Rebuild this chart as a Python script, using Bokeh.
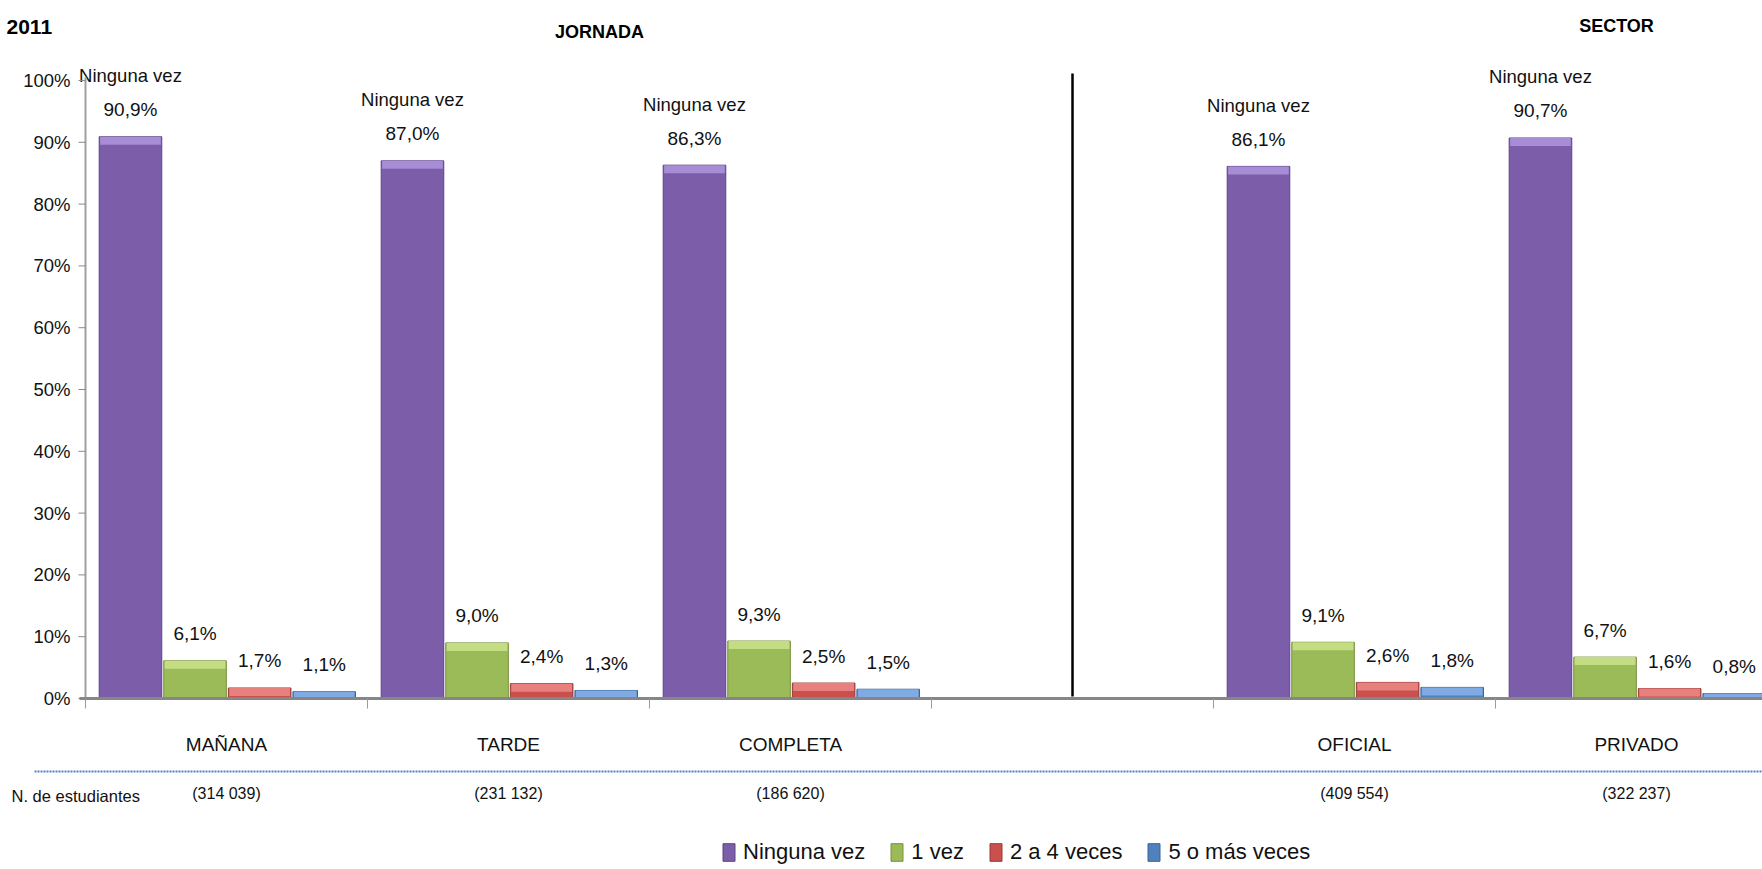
from bokeh.plotting import figure
from bokeh.models import Range1d, ColumnDataSource, Legend, LegendItem
from bokeh.core.properties import value
from bokeh.embed import file_html
from bokeh.resources import INLINE

# ---------------- data ----------------
year = "2011"
categories = ["MAÑANA", "TARDE", "COMPLETA", "", "OFICIAL", "PRIVADO"]
group_titles = ["JORNADA", "SECTOR"]
series_names = ["Ninguna vez", "1 vez", "2 a 4 veces", "5 o más veces"]
ninguna_vez = [90.9, 87.0, 86.3, None, 86.1, 90.7]
una_vez = [6.1, 9.0, 9.3, None, 9.1, 6.7]
dos_a_cuatro = [1.7, 2.4, 2.5, None, 2.6, 1.6]
cinco_o_mas = [1.1, 1.3, 1.5, None, 1.8, 0.8]
n_estudiantes = ["(314 039)", "(231 132)", "(186 620)", "", "(409 554)", "(322 237)"]
n_label = "N. de estudiantes"
y_ticks = [0, 10, 20, 30, 40, 50, 60, 70, 80, 90, 100]

series_values = [ninguna_vez, una_vez, dos_a_cuatro, cinco_o_mas]

# ---------------- style / layout ----------------
FONT = "Liberation Sans"
TXT = "#111111"
body_colors = ["#7C5DA9", "#9BBB59", "#C9504D", "#4F81BD"]
cap_colors = ["#A78DD6", "#C4DC82", "#E8807D", "#80AAE4"]
edge_colors = ["#5D4486", "#78923F", "#963A38", "#3A6596"]

W, H = 1762, 869
AXIS_X = 85          # px of the value axis
CAT_PX = 282         # px per category
Y_PX = 6.18          # px per percent point
ZERO_Y = 698         # px from top for 0 %


def dx(px):  # px from left -> data x
    return (px - AXIS_X) / CAT_PX


def dy(py):  # px from top -> data y
    return (ZERO_Y - py) / Y_PX


p = figure(width=W, height=H, x_range=Range1d(dx(0), dx(W)), y_range=Range1d(dy(H), dy(0)),
           output_backend="svg", toolbar_location=None, x_axis_location=None,
           y_axis_location=None, min_border_left=0, min_border_right=0,
           min_border_top=0, min_border_bottom=0)
p.outline_line_color = None
p.grid.visible = False
p.background_fill_color = "white"
p.border_fill_color = "white"

offsets = [0.1595, 0.3885, 0.6175, 0.8465]
BAR_W = 0.222
CAP_H = 8 / Y_PX

renderers = []
for s, vals in enumerate(series_values):
    xs, tops, caps, labels = [], [], [], []
    for i, v in enumerate(vals):
        if v is None:
            continue
        xs.append(i + offsets[s])
        tops.append(v)
        caps.append(max(0.0, v - CAP_H))
        labels.append(f"{v:.1f}".replace(".", ",") + "%")
    src = ColumnDataSource(dict(x=xs, top=tops, cap=caps, label=labels,
                                name=[series_names[s]] * len(xs)))
    r = p.vbar(x="x", top="top", bottom=0, width=BAR_W, source=src,
               fill_color=body_colors[s], line_color=edge_colors[s], line_width=1)
    p.vbar(x="x", top="top", bottom="cap", width=BAR_W * 0.97, source=src,
           fill_color=cap_colors[s], line_color=None)
    renderers.append(r)
    p.text(x="x", y="top", text="label", source=src, y_offset=-27,
           text_align="center", text_baseline="middle", text_font=value(FONT),
           text_font_size="19px", text_color=TXT)
    if s == 0:
        p.text(x="x", y="top", text="name", source=src, y_offset=-61,
               text_align="center", text_baseline="middle", text_font=value(FONT),
               text_font_size="18.5px", text_color=TXT)

# value axis (ticks + labels from y_ticks)
n_t = len(y_ticks)
p.segment(x0=[0], y0=[0], x1=[0], y1=[100.5], line_color="#A0A0A0", line_width=2)
p.segment(x0=[0] * n_t, y0=y_ticks, x1=[dx(AXIS_X - 7)] * n_t, y1=y_ticks,
          line_color="#8A8A8A", line_width=1)
p.text(x=[0] * n_t, y=y_ticks, text=[f"{t}%" for t in y_ticks], x_offset=-15,
       text_align="right", text_baseline="middle", text_font=value(FONT),
       text_font_size="18.5px", text_color=TXT)

# category axis
n_cat = len(categories)
centers = [i + 0.5 for i in range(n_cat)]
bounds = list(range(n_cat + 1))
p.segment(x0=[dx(AXIS_X - 6)], y0=[0], x1=[dx(W)], y1=[0], line_color="#868686", line_width=3)
p.segment(x0=bounds, y0=[0] * len(bounds), x1=bounds, y1=[-10 / Y_PX] * len(bounds),
          line_color="#9A9A9A", line_width=1)

# separator between JORNADA and SECTOR (centre of the empty category)
sep = categories.index("") + 0.5
p.segment(x0=[sep], y0=[dy(696)], x1=[sep], y1=[dy(73)], line_color="black", line_width=2.5)

# category labels and counts
p.text(x=centers, y=[0] * n_cat, text=categories, y_offset=46, text_align="center",
       text_baseline="middle", text_font=value(FONT), text_font_size="19px",
       text_color=TXT)
p.text(x=centers, y=[0] * n_cat, text=n_estudiantes, y_offset=95, text_align="center",
       text_baseline="middle", text_font=value(FONT), text_font_size="16px",
       text_color=TXT)

# dotted separator line
p.segment(x0=[dx(34)], y0=[dy(771)], x1=[dx(W)], y1=[dy(771)], line_color="#4F81BD",
          line_width=2, line_dash="2 1")

# titles / side texts
p.text(x=[dx(6)], y=[dy(26)], text=[year], text_align="left", text_baseline="middle",
       text_font=value(FONT), text_font_style="bold", text_font_size="21px",
       text_color="black")
p.text(x=[dx(599), dx(1616)], y=[dy(31), dy(25)], text=group_titles, text_align="center",
       text_baseline="middle", text_font=value(FONT), text_font_style="bold",
       text_font_size="18px", text_color="black")
p.text(x=[dx(11)], y=[dy(795)], text=[n_label], text_align="left", text_baseline="middle",
       text_font=value(FONT), text_font_size="16.5px", text_color=TXT)

legend = Legend(items=[LegendItem(label=series_names[i], renderers=[renderers[i]])
                       for i in range(4)],
                orientation="horizontal", location=(721, 4),
                label_text_font=FONT, label_text_font_size="22px",
                label_text_color=TXT,
                glyph_width=15, glyph_height=22, label_height=22, label_standoff=7,
                spacing=24, padding=0, margin=0, border_line_color=None,
                background_fill_alpha=0)
p.add_layout(legend)

open("out.html", "w").write(file_html(p, INLINE))
